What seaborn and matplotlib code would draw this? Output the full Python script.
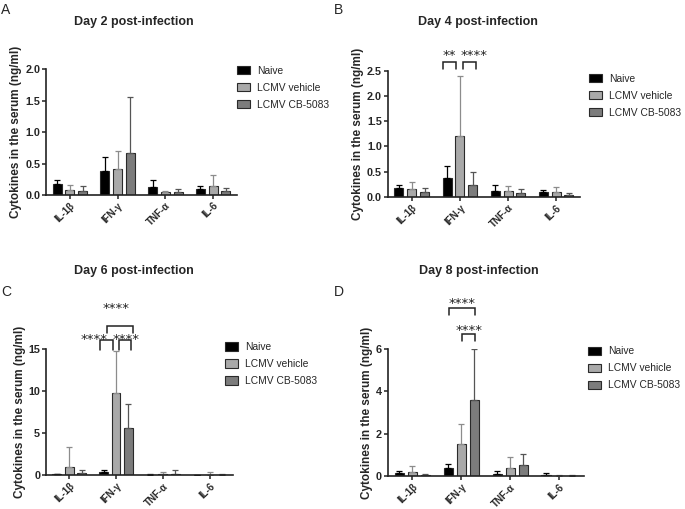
import numpy as np
import pandas as pd
import matplotlib
matplotlib.use("Agg")
import matplotlib.pyplot as plt
import seaborn as sns

cytokines = ["IL-1β", "IFN-γ", "TNF-α", "IL-6"]
groups = ["Naive", "LCMV vehicle", "LCMV CB-5083"]
days = ["Day 2 post-infection", "Day 4 post-infection",
        "Day 6 post-infection", "Day 8 post-infection"]
panel_letters = ["A", "B", "C", "D"]

# mean values (ng/ml), one list per group, in cytokine order
day2_naive = [0.17, 0.38, 0.12, 0.09]
day2_vehicle = [0.08, 0.41, 0.05, 0.14]
day2_cb = [0.07, 0.66, 0.05, 0.06]
day2_naive_sd = [0.07, 0.22, 0.12, 0.05]
day2_vehicle_sd = [0.08, 0.29, 0.02, 0.18]
day2_cb_sd = [0.07, 0.90, 0.04, 0.05]

day4_naive = [0.17, 0.38, 0.12, 0.09]
day4_vehicle = [0.15, 1.20, 0.11, 0.10]
day4_cb = [0.10, 0.24, 0.08, 0.04]
day4_naive_sd = [0.07, 0.23, 0.12, 0.05]
day4_vehicle_sd = [0.15, 1.20, 0.10, 0.09]
day4_cb_sd = [0.08, 0.25, 0.08, 0.04]

day6_naive = [0.15, 0.35, 0.10, 0.05]
day6_vehicle = [1.00, 9.70, 0.15, 0.10]
day6_cb = [0.25, 5.60, 0.20, 0.10]
day6_naive_sd = [0.05, 0.25, 0.10, 0.05]
day6_vehicle_sd = [2.40, 5.00, 0.30, 0.25]
day6_cb_sd = [0.35, 2.80, 0.40, 0.10]

day8_naive = [0.15, 0.38, 0.12, 0.08]
day8_vehicle = [0.22, 1.50, 0.40, 0.02]
day8_cb = [0.05, 3.57, 0.55, 0.03]
day8_naive_sd = [0.10, 0.22, 0.13, 0.07]
day8_vehicle_sd = [0.28, 0.97, 0.52, 0.03]
day8_cb_sd = [0.07, 2.43, 0.48, 0.03]

y_max = [2.0, 2.5, 15, 6]
y_ticks = [[0.0, 0.5, 1.0, 1.5, 2.0], [0.0, 0.5, 1.0, 1.5, 2.0, 2.5],
           [0, 5, 10, 15], [0, 2, 4, 6]]
y_fmt = ["{:.1f}", "{:.1f}", "{:.0f}", "{:.0f}"]

bar_colors = ["#000000", "#a9a9a9", "#7c7c7c"]
err_colors = ["#000000", "#8c8c8c", "#555555"]

means = [[day2_naive, day2_vehicle, day2_cb],
         [day4_naive, day4_vehicle, day4_cb],
         [day6_naive, day6_vehicle, day6_cb],
         [day8_naive, day8_vehicle, day8_cb]]
sds = [[day2_naive_sd, day2_vehicle_sd, day2_cb_sd],
       [day4_naive_sd, day4_vehicle_sd, day4_cb_sd],
       [day6_naive_sd, day6_vehicle_sd, day6_cb_sd],
       [day8_naive_sd, day8_vehicle_sd, day8_cb_sd]]

# axes boxes [left, bottom, width, height] in figure fraction
boxes = [[0.067, 0.617, 0.279, 0.247],
         [0.566, 0.613, 0.281, 0.248],
         [0.067, 0.066, 0.273, 0.249],
         [0.566, 0.064, 0.286, 0.251]]
title_xy = [(0.195, 0.957), (0.697, 0.957), (0.195, 0.467), (0.699, 0.467)]
letter_xy = [(0.002, 0.980), (0.488, 0.980), (0.002, 0.426), (0.488, 0.426)]
legend_x = [0.98, 1.025, 0.935, 1.0]
legend_y = [1.06, 1.01, 1.085, 1.05]

sns.set_style("ticks")
plt.rcParams["font.family"] = ["Liberation Sans", "DejaVu Sans"]
fig = plt.figure(figsize=(6.85, 5.09), dpi=100)


def draw_bracket(ax, x1, x2, y_top, y_bot, label, lx, ly):
    ax.plot([x1, x1, x2, x2], [y_bot, y_top, y_top, y_bot], color="#222222",
            lw=1.1, clip_on=False, solid_joinstyle="miter")
    ax.annotate(label, (lx, ly), xytext=(0, -5), textcoords="offset points",
                ha="center", va="baseline", fontsize=9.5, color="#222222",
                family="DejaVu Sans", annotation_clip=False)


for i in range(4):
    ax = fig.add_axes(boxes[i])
    rows = []
    for g, name in enumerate(groups):
        for c, cy in enumerate(cytokines):
            rows.append({"cytokine": cy, "group": name, "value": means[i][g][c]})
    df = pd.DataFrame(rows)
    sns.barplot(data=df, x="cytokine", y="value", hue="group", order=cytokines,
                hue_order=groups, palette=bar_colors, width=0.8, gap=0.3,
                errorbar=None, edgecolor="#2a2a2a", linewidth=0.8, ax=ax)

    bar_conts = list(ax.containers)
    centers = []
    for g, cont in enumerate(bar_conts):
        xs = [b.get_x() + b.get_width() / 2 for b in cont]
        hs = [b.get_height() for b in cont]
        centers.append(xs)
        ax.errorbar(xs, hs, yerr=[np.zeros(len(hs)), sds[i][g]], fmt="none",
                    ecolor=err_colors[g], elinewidth=0.9, capsize=2.5,
                    capthick=0.9, zorder=1)

    ax.set_xlim(-0.5, 3.5)
    ax.set_ylim(0, y_max[i])
    ax.set_yticks(y_ticks[i])
    ax.set_yticklabels([y_fmt[i].format(t) for t in y_ticks[i]],
                       fontsize=7.8, fontweight="bold")
    ax.set_xticks(range(4))
    ax.set_xticklabels(cytokines, rotation=45, ha="right",
                       rotation_mode="anchor", fontsize=7.0, fontweight="bold")
    ax.set_xlabel("")
    ax.set_ylabel("Cytokines in the serum (ng/ml)", fontsize=8.5,
                  fontweight="bold", labelpad=2)
    sns.despine(ax=ax)
    for s in ["left", "bottom"]:
        ax.spines[s].set_linewidth(1.2)
        ax.spines[s].set_color("#222222")
    ax.tick_params(axis="both", width=1.1, length=2.6, color="#222222", pad=1.5)

    handles, labels = ax.get_legend_handles_labels()
    ax.legend(handles[:3], labels[:3], loc="upper left",
              bbox_to_anchor=(legend_x[i], legend_y[i]), frameon=False,
              fontsize=7.4, handlelength=1.25, handleheight=0.85,
              labelspacing=0.68, handletextpad=0.7, borderaxespad=0)

    fig.text(*title_xy[i], days[i], ha="center", va="center", fontsize=9,
             fontweight="bold")
    fig.text(*letter_xy[i], panel_letters[i], ha="left", va="center",
             fontsize=10)

    # significance brackets on IFN-γ
    x = [centers[g][1] for g in range(3)]
    ym = y_max[i]
    if i == 1:
        draw_bracket(ax, x[0] - 0.08, x[1] - 0.08, ym * 1.068, ym * 1.016,
                     "**", (x[0] + x[1]) / 2 - 0.08, ym * 1.152)
        draw_bracket(ax, x[1] + 0.07, x[2] + 0.07, ym * 1.068, ym * 1.016,
                     "****", (x[1] + x[2]) / 2 + 0.16, ym * 1.152)
    elif i == 2:
        draw_bracket(ax, x[0] - 0.07, x[1] - 0.07, ym * 1.065, ym * 0.992,
                     "****", x[0] - 0.2, ym * 1.097)
        draw_bracket(ax, x[1] + 0.06, x[2] + 0.06, ym * 1.065, ym * 0.992,
                     "****", x[1] + 0.21, ym * 1.097)
        draw_bracket(ax, (x[0] + x[1]) / 2 - 0.07, x[2] + 0.1, ym * 1.175,
                     ym * 1.125, "****", x[1], ym * 1.347)
    elif i == 3:
        draw_bracket(ax, x[0] + 0.02, x[2] + 0.02, ym * 1.315, ym * 1.262,
                     "****", (x[0] + x[2]) / 2 + 0.02, ym * 1.377)
        draw_bracket(ax, x[1] + 0.02, x[2] + 0.02, ym * 1.112, ym * 1.058,
                     "****", (x[1] + x[2]) / 2 + 0.02, ym * 1.167)

fig.savefig("out.png", dpi=100)
